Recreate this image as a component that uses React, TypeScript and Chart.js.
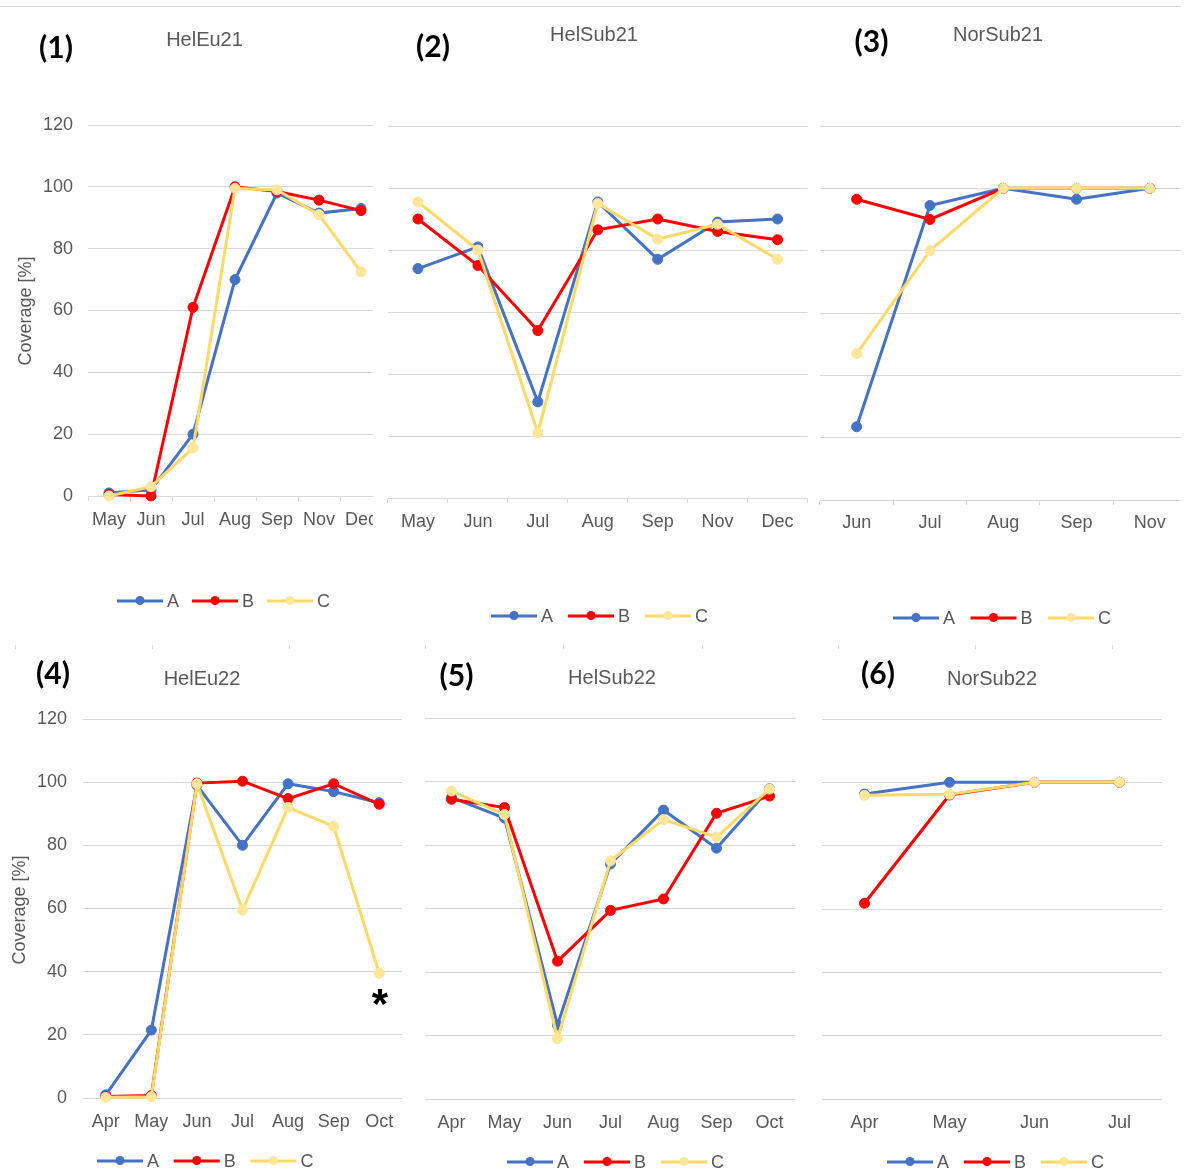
import React, { useEffect, useRef } from "react";
import { Chart, registerables } from "chart.js";

Chart.register(...registerables);

const BLUE = "#4472C4";
const RED = "#FF0000";
const YELLOW = "#FFD966";
const YELLOW_DOT = "#FFE699";
const GRID = "#D9D9D9";
const TEXT = "#595959";
const SANS = '"Liberation Sans", Arial, sans-serif';

const yMin = 0;
const yMax = 120;
const yStep = 20;

// (1) HelEu21
const helEu21Months = ["May", "Jun", "Jul", "Aug", "Sep", "Nov", "Dec"];
const helEu21A = [1, 2, 20, 70, 98, 91.5, 93];
const helEu21B = [0.5, 0, 61, 100, 98.5, 95.7, 92.3];
const helEu21C = [0, 3, 15.5, 99.5, 99, 91, 72.5];

// (2) HelSub21
const helSub21Months = ["May", "Jun", "Jul", "Aug", "Sep", "Nov", "Dec"];
const helSub21A = [74, 81, 31, 95.5, 77, 89, 90];
const helSub21B = [90, 75, 54, 86.5, 90, 86, 83.3];
const helSub21C = [95.5, 80, 21, 95, 83.5, 88.3, 77];

// (3) NorSub21
const norSub21Months = ["Jun", "Jul", "Aug", "Sep", "Nov"];
const norSub21A = [23.5, 94.5, 100, 96.5, 100];
const norSub21B = [96.5, 90, 100, 100, 100];
const norSub21C = [47, 80, 100, 100, 100];

// (4) HelEu22
const helEu22Months = ["Apr", "May", "Jun", "Jul", "Aug", "Sep", "Oct"];
const helEu22A = [1, 21.5, 99, 80, 99.5, 97, 93.5];
const helEu22B = [0.5, 0.8, 99.7, 100.3, 94.8, 99.5, 93];
const helEu22C = [0.2, 0.4, 99.5, 59.5, 92, 86, 39.5];

// (5) HelSub22
const helSub22Months = ["Apr", "May", "Jun", "Jul", "Aug", "Sep", "Oct"];
const helSub22A = [95, 88.5, 23.3, 74, 91, 79, 97.7];
const helSub22B = [94.4, 91.8, 43.4, 59.4, 63, 90, 95.4];
const helSub22C = [97, 89.6, 19, 75, 88, 82.5, 97.6];

// (6) NorSub22
const norSub22Months = ["Apr", "May", "Jun", "Jul"];
const norSub22A = [96.3, 100, 100, 100];
const norSub22B = [61.8, 96, 100, 100];
const norSub22C = [95.9, 96.2, 100, 100];

const seriesNames = ["A", "B", "C"];
const yAxisTitle = "Coverage [%]";

type Box = { x: number; y: number; w: number; h: number; clipW?: number };
type Area = { l: number; r: number; t: number; b: number };
type PanelCfg = {
  tag: string;
  title: string;
  months: string[];
  a: number[];
  b: number[];
  c: number[];
  box: Box;
  area: Area;
  top: boolean;
  yLabels: boolean;
  tickPadX: number;
  tickPadY: number;
  titlePos: [number, number];
  tagPos: [number, number];
  legend: [number, number, number];
  yTitlePos?: [number, number];
  note?: { text: string; x: number; y: number };
};

const panels: PanelCfg[] = [
  {
    tag: "(1)", title: "HelEu21", months: helEu21Months, a: helEu21A, b: helEu21B, c: helEu21C,
    box: { x: 0, y: 0, w: 400, h: 640, clipW: 373 }, area: { l: 88, r: 382, t: 125, b: 496 },
    top: true, yLabels: true, tickPadX: 8, tickPadY: 15,
    titlePos: [204.5, 40], tagPos: [56, 58], legend: [117, 601, 75], yTitlePos: [26, 311],
  },
  {
    tag: "(2)", title: "HelSub21", months: helSub21Months, a: helSub21A, b: helSub21B, c: helSub21C,
    box: { x: 380, y: 0, w: 435, h: 640 }, area: { l: 388, r: 807.5, t: 126, b: 498 },
    top: true, yLabels: false, tickPadX: 8, tickPadY: 15,
    titlePos: [594, 35], tagPos: [433, 57], legend: [491, 616, 77],
  },
  {
    tag: "(3)", title: "NorSub21", months: norSub21Months, a: norSub21A, b: norSub21B, c: norSub21C,
    box: { x: 810, y: 0, w: 400, h: 640, clipW: 371 }, area: { l: 820, r: 1186.5, t: 126, b: 500 },
    top: true, yLabels: false, tickPadX: 7, tickPadY: 15,
    titlePos: [998, 35], tagPos: [871.5, 52], legend: [893, 618, 77.5],
  },
  {
    tag: "(4)", title: "HelEu22", months: helEu22Months, a: helEu22A, b: helEu22B, c: helEu22C,
    box: { x: 0, y: 650, w: 410, h: 524 }, area: { l: 83, r: 402, t: 719, b: 1098 },
    top: false, yLabels: true, tickPadX: 13, tickPadY: 16,
    titlePos: [202, 679], tagPos: [53, 684], legend: [97, 1161, 76.7], yTitlePos: [20, 910],
    note: { text: "*", x: 380, y: 999 },
  },
  {
    tag: "(5)", title: "HelSub22", months: helSub22Months, a: helSub22A, b: helSub22B, c: helSub22C,
    box: { x: 410, y: 650, w: 395, h: 524 }, area: { l: 425, r: 796, t: 718, b: 1099 },
    top: false, yLabels: false, tickPadX: 13, tickPadY: 16,
    titlePos: [612, 678], tagPos: [456.5, 686], legend: [507, 1162, 77],
  },
  {
    tag: "(6)", title: "NorSub22", months: norSub22Months, a: norSub22A, b: norSub22B, c: norSub22C,
    box: { x: 805, y: 650, w: 380, h: 524 }, area: { l: 822, r: 1162, t: 719, b: 1099 },
    top: false, yLabels: false, tickPadX: 13, tickPadY: 16,
    titlePos: [992, 679], tagPos: [878, 684], legend: [887, 1162, 77],
  },
];

// faint tick marks on the divider between the two rows
const dividerMarks = [15, 152, 289, 425, 563, 702, 838, 975, 1112];

const X_AXIS_H = 40;
const LINE_COLORS = [BLUE, RED, YELLOW];
const DOT_COLORS = [BLUE, RED, YELLOW_DOT];

function series(label: string, data: number[], idx: number) {
  return {
    label,
    data,
    borderColor: LINE_COLORS[idx],
    backgroundColor: DOT_COLORS[idx],
    pointBackgroundColor: DOT_COLORS[idx],
    pointBorderColor: DOT_COLORS[idx],
    borderWidth: 3,
    pointRadius: 5,
    pointBorderWidth: 1,
    tension: 0,
    clip: false as const,
    // C drawn on top, then B, then A
    order: 3 - idx,
  };
}

function Panel({ cfg }: { cfg: PanelCfg }) {
  const ref = useRef<HTMLCanvasElement>(null);

  useEffect(() => {
    const { box, area } = cfg;
    const ox = box.x;
    const oy = box.y;

    const decor = {
      id: "panelDecor",
      afterDraw(chart: Chart) {
        const ctx = chart.ctx;
        ctx.save();
        // panel title
        ctx.fillStyle = TEXT;
        ctx.font = `20px ${SANS}`;
        ctx.textAlign = "center";
        ctx.textBaseline = "middle";
        ctx.fillText(cfg.title, cfg.titlePos[0] - ox, cfg.titlePos[1] - oy);

        // panel number
        ctx.fillStyle = "#000000";
        ctx.font = `bold 30px Lato, ${SANS}`;
        ctx.textBaseline = "alphabetic";
        ctx.fillText(cfg.tag, cfg.tagPos[0] - ox, cfg.tagPos[1] - oy);

        // y axis title
        if (cfg.yTitlePos) {
          ctx.save();
          ctx.translate(cfg.yTitlePos[0] - ox, cfg.yTitlePos[1] - oy);
          ctx.rotate(-Math.PI / 2);
          ctx.fillStyle = TEXT;
          ctx.font = `18px ${SANS}`;
          ctx.textAlign = "center";
          ctx.textBaseline = "middle";
          ctx.fillText(yAxisTitle, 0, 0);
          ctx.restore();
        }

        // note mark
        if (cfg.note) {
          ctx.fillStyle = "#000000";
          ctx.font = `bold 42px ${SANS}`;
          ctx.textAlign = "center";
          ctx.textBaseline = "alphabetic";
          ctx.fillText(cfg.note.text, cfg.note.x - ox, cfg.note.y - oy + 19);
        }

        // legend: line with a dot, then the series name
        const [lx, ly, stride] = cfg.legend;
        seriesNames.forEach((name, i) => {
          const x0 = lx - ox + i * stride;
          const y0 = ly - oy;
          ctx.strokeStyle = LINE_COLORS[i];
          ctx.lineWidth = 3;
          ctx.beginPath();
          ctx.moveTo(x0, y0);
          ctx.lineTo(x0 + 46, y0);
          ctx.stroke();
          ctx.fillStyle = DOT_COLORS[i];
          ctx.beginPath();
          ctx.arc(x0 + 23, y0 - 0.5, 4.5, 0, Math.PI * 2);
          ctx.fill();
          ctx.fillStyle = TEXT;
          ctx.font = `18px ${SANS}`;
          ctx.textAlign = "left";
          ctx.textBaseline = "middle";
          ctx.fillText(name, x0 + 50, y0 + 1);
        });
        ctx.restore();
      },
    };

    const chart = new Chart(ref.current as HTMLCanvasElement, {
      type: "line",
      data: {
        labels: cfg.months,
        datasets: [series("A", cfg.a, 0), series("B", cfg.b, 1), series("C", cfg.c, 2)],
      },
      options: {
        responsive: false,
        animation: false,
        events: [],
        layout: {
          padding: {
            left: 0,
            top: area.t - oy,
            right: ox + box.w - area.r,
            bottom: oy + box.h - area.b - X_AXIS_H,
          },
        },
        plugins: {
          legend: { display: false },
          tooltip: { enabled: false },
          title: { display: false },
        },
        scales: {
          x: {
            type: "category",
            offset: true,
            grid: cfg.top
              ? { display: true, drawOnChartArea: false, drawTicks: true, tickLength: 5, offset: true, color: GRID, lineWidth: 1 }
              : { display: false, drawTicks: false },
            border: cfg.top ? { display: true, color: GRID, width: 1 } : { display: false },
            ticks: {
              color: TEXT,
              font: { family: SANS, size: 18 },
              padding: cfg.tickPadX,
              maxRotation: 0,
              minRotation: 0,
              autoSkip: false,
            },
            afterFit: (s: any) => {
              s.height = X_AXIS_H;
            },
          },
          y: {
            min: yMin,
            max: yMax,
            grid: { color: GRID, lineWidth: 1, drawTicks: false },
            border: { display: false },
            ticks: {
              stepSize: yStep,
              display: cfg.yLabels,
              color: TEXT,
              font: { family: SANS, size: 18 },
              padding: cfg.tickPadY,
            },
            afterFit: (s: any) => {
              s.width = area.l - ox;
            },
          },
        },
      },
      plugins: [decor],
    });

    return () => chart.destroy();
  }, [cfg]);

  const { box } = cfg;
  return (
    <div
      style={{
        position: "absolute",
        left: box.x,
        top: box.y,
        width: box.clipW ?? box.w,
        height: box.h,
        overflow: "hidden",
      }}
    >
      <canvas
        ref={ref}
        width={box.w}
        height={box.h}
        style={{ display: "block", width: box.w, height: box.h }}
      />
    </div>
  );
}

export default function App() {
  return (
    <div
      style={{
        position: "absolute",
        left: 0,
        top: 0,
        width: 1185,
        height: 1174,
        background: "#FFFFFF",
        overflow: "hidden",
      }}
    >
      <div style={{ position: "absolute", left: 0, top: 6, width: 1181, height: 1, background: GRID }} />
      {dividerMarks.map((x) => (
        <div
          key={x}
          style={{ position: "absolute", left: x, top: 645, width: 1, height: 4, background: GRID }}
        />
      ))}
      {panels.map((p) => (
        <Panel key={p.title} cfg={p} />
      ))}
    </div>
  );
}
